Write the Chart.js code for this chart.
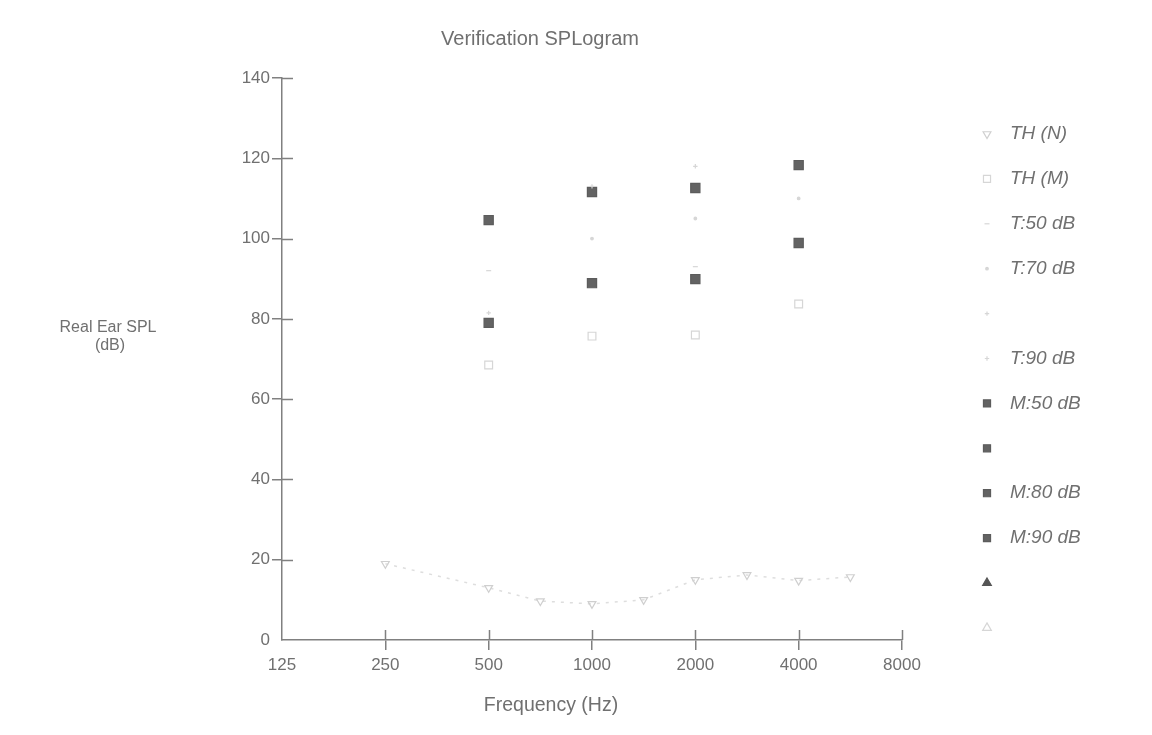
<!DOCTYPE html>
<html>
<head>
<meta charset="utf-8">
<script src="https://cdn.jsdelivr.net/npm/chart.js@4.4.1/dist/chart.umd.min.js"></script>
<style>
  html, body { margin: 0; background: #fff; }
  #wrap { width: 1152px; height: 735px; }
</style>
</head>
<body>
<div id="wrap"><canvas id="splogram"></canvas></div>
<script>
// ---- data ----
const freqTicks = [125, 250, 500, 1000, 2000, 4000, 8000];
const yTicks = [0, 20, 40, 60, 80, 100, 120, 140];

const thnFreq = [250, 500, 707, 1000, 1414, 2000, 2828, 4000, 5657];
const thnVals = [19, 13, 9.7, 9, 10, 15, 16.2, 14.8, 15.7];

const testFreq = [500, 1000, 2000, 4000];
const thmVals = [68.5, 75.7, 76, 83.7];
const m50Vals = [79, 88.9, 89.9, 98.9];
const m80Vals = [104.6, 111.6, 112.6, 118.3];

const t50Freq = [500, 2000];
const t50Vals = [92, 93];
const t70Freq = [1000, 2000, 4000];
const t70Vals = [100, 105, 110];
const tBlankFreq = [500];
const tBlankVals = [81.5];
const t90Freq = [1000, 2000];
const t90Vals = [113, 118];

const legendLabels = ['TH (N)', 'TH (M)', 'T:50 dB', 'T:70 dB', '', 'T:90 dB',
                      'M:50 dB', '', 'M:80 dB', 'M:90 dB', '', ''];

const FONT = "'Liberation Sans', Arial, sans-serif";
const TEXT = '#707070';
const AXIS = '#808080';
const FAINT = '#d6d6d6';
const DARK = '#636363';

const pts = (xs, ys) => xs.map((x, i) => ({ x: x, y: ys[i] }));

function marker(style, color, radius, fill, rot) {
    return {
        pointStyle: style,
        pointRotation: rot || 0,
        pointRadius: radius,
        pointHoverRadius: radius,
        pointBorderColor: color,
        pointBackgroundColor: fill,
        pointBorderWidth: 1.2,
        showLine: false
    };
}

const datasets = [
    Object.assign({ label: legendLabels[0], data: pts(thnFreq, thnVals),
        borderColor: '#dedede', borderWidth: 1.5, borderDash: [3, 6] },
        marker('triangle', '#cfcfcf', 4.5, 'rgba(0,0,0,0)', 180), { showLine: true }),
    Object.assign({ label: legendLabels[1], data: pts(testFreq, thmVals) },
        marker('rect', FAINT, 5.5, 'rgba(0,0,0,0)')),
    Object.assign({ label: legendLabels[2], data: pts(t50Freq, t50Vals) },
        marker('line', FAINT, 2.5, FAINT)),
    Object.assign({ label: legendLabels[3], data: pts(t70Freq, t70Vals) },
        marker('circle', FAINT, 1.3, FAINT)),
    Object.assign({ label: legendLabels[4], data: pts(tBlankFreq, tBlankVals) },
        marker('cross', FAINT, 2.2, FAINT)),
    Object.assign({ label: legendLabels[5], data: pts(t90Freq, t90Vals) },
        marker('cross', FAINT, 2.2, FAINT)),
    Object.assign({ label: legendLabels[6], data: pts(testFreq, m50Vals) },
        marker('rect', '#5c5c5c', 6.5, DARK)),
    Object.assign({ label: legendLabels[7], data: [] },
        marker('rect', '#5c5c5c', 6.5, DARK)),
    Object.assign({ label: legendLabels[8], data: pts(testFreq, m80Vals) },
        marker('rect', '#5c5c5c', 6.5, DARK)),
    Object.assign({ label: legendLabels[9], data: [] },
        marker('rect', '#5c5c5c', 6.5, DARK)),
    Object.assign({ label: legendLabels[10], data: [] },
        marker('triangle', '#555', 5, '#555')),
    Object.assign({ label: legendLabels[11], data: [] },
        marker('triangle', FAINT, 5, 'rgba(0,0,0,0)'))
];

// titles, legend and the inner half of the cross ticks
const decorations = {
    id: 'decorations',
    afterDraw(chart) {
        const ctx = chart.ctx;
        const area = chart.chartArea;
        const xs = chart.scales.x, ys = chart.scales.y;
        ctx.save();

        // inner tick stubs
        ctx.strokeStyle = AXIS;
        ctx.lineWidth = 1.5;
        ctx.beginPath();
        yTicks.slice(1).forEach(v => {
            const py = Math.round(ys.getPixelForValue(v)) + 0.5;
            ctx.moveTo(area.left, py);
            ctx.lineTo(area.left + 11, py);
        });
        freqTicks.slice(1).forEach(v => {
            const px = Math.round(xs.getPixelForValue(v)) + 0.5;
            ctx.moveTo(px, area.bottom);
            ctx.lineTo(px, area.bottom - 10);
        });
        ctx.stroke();

        // titles
        ctx.fillStyle = TEXT;
        ctx.textAlign = 'center';
        ctx.textBaseline = 'middle';
        ctx.font = '20px ' + FONT;
        ctx.fillText('Verification SPLogram', 540, 39);
        ctx.font = '19.5px ' + FONT;
        ctx.fillText('Frequency (Hz)', 551, 706);
        ctx.font = '16px ' + FONT;
        ctx.fillText('Real Ear SPL', 108, 328);
        ctx.fillText('(dB)', 110, 346);

        // legend
        const drawPoint = Chart.helpers && Chart.helpers.drawPoint;
        ctx.textAlign = 'left';
        ctx.font = 'italic 19px ' + FONT;
        datasets.forEach((ds, i) => {
            const y = 134 + i * 44.9;
            if (drawPoint) {
                ctx.save();
                ctx.strokeStyle = ds.pointBorderColor;
                ctx.fillStyle = ds.pointBackgroundColor;
                ctx.lineWidth = 1.2;
                ctx.setLineDash([]);
                drawPoint(ctx, {
                    pointStyle: ds.pointStyle,
                    rotation: ds.pointRotation,
                    radius: Math.min(ds.pointRadius, 5),
                    borderWidth: 1.2
                }, 987, y);
                ctx.restore();
            }
            if (ds.label) {
                ctx.fillStyle = TEXT;
                ctx.fillText(ds.label, 1010, y);
            }
        });
        ctx.restore();
    }
};

new Chart(document.getElementById('splogram'), {
    type: 'scatter',
    data: { datasets: datasets },
    options: {
        responsive: true,
        maintainAspectRatio: false,
        animation: false,
        events: [],
        layout: { padding: { top: 78, right: 250, left: 0, bottom: 0 } },
        plugins: { legend: { display: false }, title: { display: false }, tooltip: { enabled: false } },
        scales: {
            x: {
                type: 'logarithmic',
                min: 125,
                max: 8000,
                afterBuildTicks: s => { s.ticks = freqTicks.map(v => ({ value: v })); },
                afterFit: s => { s.height = 95; },
                ticks: {
                    callback: v => String(v),
                    autoSkip: false,
                    maxRotation: 0,
                    color: TEXT,
                    padding: 5,
                    font: { family: FONT, size: 17 }
                },
                grid: {
                    drawOnChartArea: false,
                    tickLength: 10,
                    lineWidth: 1.5,
                    color: c => (c.index === 0 ? 'rgba(0,0,0,0)' : AXIS)
                },
                border: { color: AXIS, width: 1.5 }
            },
            y: {
                min: 0,
                max: 140,
                afterBuildTicks: s => { s.ticks = yTicks.map(v => ({ value: v })); },
                afterFit: s => { s.width = 282; },
                ticks: {
                    color: TEXT,
                    padding: 2,
                    font: { family: FONT, size: 17 }
                },
                grid: {
                    drawOnChartArea: false,
                    tickLength: 10,
                    lineWidth: 1.5,
                    color: c => (c.index === 0 ? 'rgba(0,0,0,0)' : AXIS)
                },
                border: { color: AXIS, width: 1.5 }
            }
        }
    },
    plugins: [decorations]
});
</script>
</body>
</html>
